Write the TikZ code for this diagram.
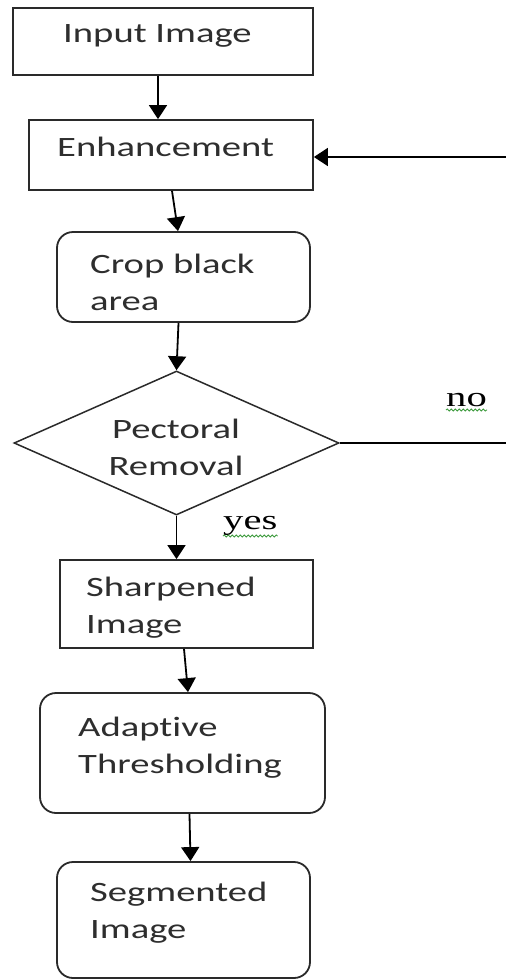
\documentclass[tikz,border=0pt]{standalone}
\usepackage{fontspec}
\setmainfont{Carlito}[FakeStretch=1.38, Ligatures=NoCommon]
\newfontfamily\labelfont{Liberation Serif}[FakeStretch=1.45]
\usepackage{tikz}
\usetikzlibrary{shapes.geometric, positioning, arrows.meta, decorations.pathmorphing}
\usepackage{xcolor}
\definecolor{BoxLine}{HTML}{2A2A2A}
\definecolor{TextGray}{HTML}{2E2E2E}
\definecolor{SpellGreen}{HTML}{3C9A3C}

\begin{document}
\begin{tikzpicture}[x=1pt, y=-1pt,
        box/.style={draw=BoxLine, line width=1.8pt, inner sep=0pt, minimum width=#1},
        roundbox/.style={box=#1, rounded corners=16pt},
        txt/.style={inner sep=0pt, anchor=north west, align=left, text=TextGray,
            font=\fontsize{28}{37}\selectfont},
        lbl/.style={inner sep=0pt, anchor=base west, text=black,
            font=\labelfont\fontsize{28}{34}\selectfont},
        flow/.style={draw=black, line width=1.8pt, -{Triangle[length=14pt, width=18pt]}},
        spell/.style={draw=SpellGreen, line width=0.8pt, decorate,
            decoration={snake, amplitude=1.1pt, segment length=4pt}}]
    \fill[white] (0,0) rectangle (506,980);
    \useasboundingbox (0,0) rectangle (506,980);
    % boxes
    \node[box=300, minimum height=67] (in) at (163,41.5) {};
    \node[box=284, minimum height=70] (enh) at (171,155) {};
    \node[roundbox=253, minimum height=90] (crop) at (183.5,277) {};
    \node[draw=BoxLine, line width=1.5pt, diamond, inner sep=0pt,
        minimum width=325, minimum height=144] (dec) at (176.5,443) {};
    \node[box=253, minimum height=88] (sharp) at (186.5,604) {};
    \node[roundbox=285, minimum height=120] (adapt) at (182.5,753) {};
    \node[roundbox=253, minimum height=116] (seg) at (183.5,920) {};
    % texts
    \node[txt] (inT) at (63,24) {Input Image};
    \node[txt] (enhT) at (57,137) {Enhancement};
    \node[txt] (cropT) at (90,254) {Crop black\\area};
    \node[txt, anchor=north, align=center] (decT) at (176,419) {Pectoral\\Removal};
    \node[txt] (sharpT) at (86,577) {Sharpened\\Image};
    \node[txt] (adaptT) at (78,717) {Adaptive\\Thresholding};
    \node[txt] (segT) at (90,882) {Segmented\\Image};
    \node[lbl] (noT) at (446,406) {no};
    \node[lbl] (yesT) at (223,529) {yes};
    \draw[spell] ([yshift=-4]noT.base west) -- ([yshift=-4]noT.base east);
    \draw[spell] ([yshift=-7]yesT.base west) -- ([yshift=-7]yesT.base east);
    % arrows
    \draw[flow] ([xshift=-5]in.south) -- ([xshift=-5]in.south |- enh.north);
    \draw[flow] ([xshift=1]enh.south) -- ([xshift=-5.5]crop.north);
    \draw[flow] ([xshift=-5]crop.south) -- (dec.north);
    \draw[flow] (dec.south) -- (dec.south |- sharp.north);
    \draw[flow] ([xshift=-2.5]sharp.south) -- ([xshift=5.5]adapt.north);
    \draw[flow] ([xshift=7]adapt.south) -- ([xshift=7]seg.north);
    \draw[flow] (dec.east) -- ++(172,0) |- ([yshift=-2]enh.east);
\end{tikzpicture}
\end{document}
